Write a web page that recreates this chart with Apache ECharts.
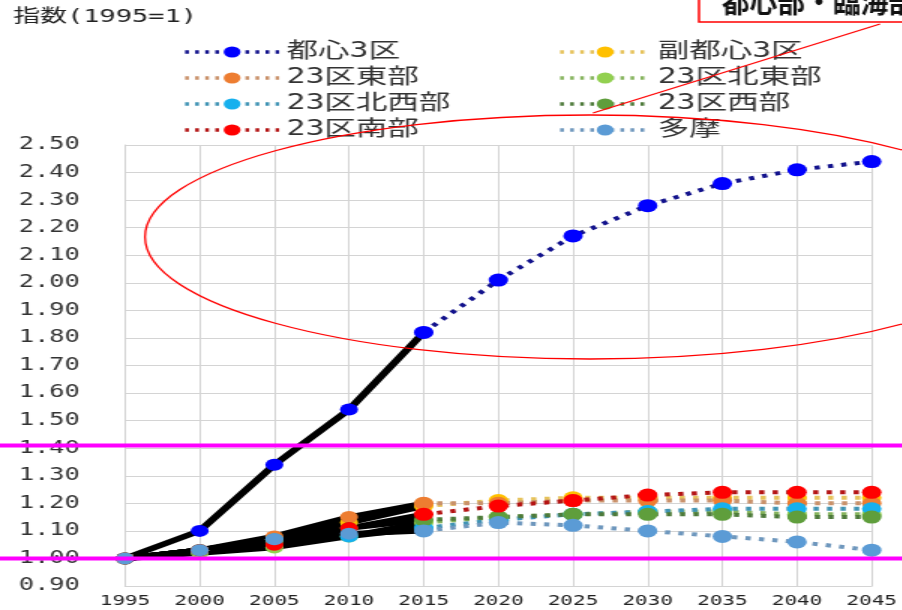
<!DOCTYPE html>
<html>
<head>
<meta charset="utf-8">
<script src="https://cdn.jsdelivr.net/npm/echarts@6/dist/echarts.min.js"></script>
<style>
  html, body { margin: 0; padding: 0; background: #ffffff; overflow: hidden; }
  #wrap { width: 902px; height: 610px; overflow: hidden; position: relative; }
  /* the chart is laid out narrow and widened horizontally, giving the wide lettering */
  #chart { width: 601.33px; height: 610px; transform: scaleX(1.5); transform-origin: 0 0; }
</style>
</head>
<body>
<div id="wrap"><div id="chart"></div></div>
<script>
// 人口指数（1995年=1）: 実績 1995–2015、推計 2015–2045
const years = ['1995', '2000', '2005', '2010', '2015', '2020', '2025', '2030', '2035', '2040', '2045'];
const lastActualIndex = 4; // 2015

const toshin3   = [1.00, 1.10, 1.34, 1.54, 1.82, 2.01, 2.17, 2.28, 2.36, 2.41, 2.44];
const fukutoshin3 = [1.00, 1.03, 1.07, 1.13, 1.19, 1.21, 1.22, 1.22, 1.22, 1.22, 1.22];
const east23    = [1.00, 1.03, 1.08, 1.15, 1.20, 1.20, 1.21, 1.21, 1.21, 1.20, 1.20];
const northEast23 = [1.00, 1.02, 1.04, 1.08, 1.13, 1.15, 1.16, 1.17, 1.17, 1.16, 1.16];
const northWest23 = [1.00, 1.03, 1.07, 1.08, 1.11, 1.14, 1.16, 1.17, 1.18, 1.18, 1.18];
const west23    = [1.00, 1.03, 1.06, 1.11, 1.14, 1.15, 1.16, 1.16, 1.16, 1.15, 1.15];
const south23   = [1.00, 1.03, 1.05, 1.11, 1.16, 1.19, 1.21, 1.23, 1.24, 1.24, 1.24];
const tama      = [1.00, 1.03, 1.07, 1.09, 1.10, 1.13, 1.12, 1.10, 1.08, 1.06, 1.03];

const yTicks = { min: 0.9, max: 2.5, step: 0.1 };

const regions = [
  { name: '都心3区',   values: toshin3,     color: '#0000ff', dot: '#12128c' },
  { name: '副都心3区', values: fukutoshin3, color: '#ffc000', dot: '#e6c25a' },
  { name: '23区東部',  values: east23,      color: '#ed7d31', dot: '#c9916a' },
  { name: '23区北東部', values: northEast23, color: '#92d050', dot: '#86b45e' },
  { name: '23区北西部', values: northWest23, color: '#16b0ee', dot: '#3f93b4' },
  { name: '23区西部',  values: west23,      color: '#5f9e3c', dot: '#4d7a3a' },
  { name: '23区南部',  values: south23,     color: '#ff0000', dot: '#b41414' },
  { name: '多摩',      values: tama,        color: '#5b9bd5', dot: '#6e97bd' }
];

const S = 1.5; // horizontal widening applied to the chart element
const X = v => v / S;

const cjk = "'DejaVu Sans Mono', 'Noto Sans CJK JP', sans-serif";

const series = [];
regions.forEach(r => {
  // 実績: black solid line with coloured markers
  series.push({
    name: r.name + '・実績',
    type: 'line',
    data: r.values.map((v, i) => (i <= lastActualIndex ? v : null)),
    symbol: 'circle',
    symbolSize: 12,
    showSymbol: true,
    itemStyle: { color: r.color },
    lineStyle: { color: '#000000', width: 5.5 },
    z: 2,
    silent: true
  });
});
regions.forEach(r => {
  // 推計: dotted line in the region colour
  series.push({
    name: r.name,
    type: 'line',
    data: r.values.map((v, i) => (i >= lastActualIndex ? v : null)),
    symbol: 'circle',
    symbolSize: 13,
    showSymbol: true,
    itemStyle: { color: r.color },
    lineStyle: { color: r.dot, width: 4, type: [3.5, 5.5] },
    z: 3,
    silent: true
  });
});

const legendCommon = {
  orient: 'vertical',
  top: 36,
  itemHeight: 14,
  itemGap: 4,
  selectedMode: false,
  lineStyle: { width: 3.5, type: [2.5, 4.2] },
  textStyle: { fontFamily: cjk, fontSize: 21, color: '#333333', lineHeight: 22 }
};

const chart = echarts.init(document.getElementById('chart'));
chart.setOption({
  animation: false,
  backgroundColor: '#ffffff',
  grid: { left: X(125), right: 601.33 - X(878), top: 145, bottom: 24, containLabel: false },
  legend: [
    Object.assign({}, legendCommon, {
      left: X(175), itemWidth: X(94),
      data: [regions[0].name, regions[2].name, regions[4].name, regions[6].name]
    }),
    Object.assign({}, legendCommon, {
      left: X(550), itemWidth: X(90),
      data: [regions[1].name, regions[3].name, regions[5].name, regions[7].name]
    })
  ],
  xAxis: {
    type: 'category',
    data: years,
    boundaryGap: false,
    axisLine: { lineStyle: { color: '#d4d4d4', width: 1 } },
    axisTick: { show: false },
    axisLabel: { fontFamily: "'DejaVu Sans Mono', monospace", fontSize: 14, color: '#222222', margin: 8 },
    splitLine: { show: true, lineStyle: { color: '#d4d4d4', width: 1 } }
  },
  yAxis: {
    type: 'value',
    min: yTicks.min,
    max: yTicks.max,
    interval: yTicks.step,
    axisLine: { show: true, lineStyle: { color: '#d4d4d4' } },
    axisTick: { show: false },
    axisLabel: {
      fontFamily: "'DejaVu Sans Mono', monospace", fontSize: 17, color: '#333333', margin: 30,
      formatter: v => v.toFixed(2)
    },
    splitLine: { show: true, lineStyle: { color: '#d4d4d4', width: 1 } }
  },
  series: series
});

// annotations: highlight bands, ellipse and callout
const yAt = v => chart.convertToPixel({ yAxisIndex: 0 }, v);
const fullWidth = 601.33;
chart.setOption({
  graphic: [
    {
      type: 'text', left: X(13), top: 8, z: 50,
      style: { text: '指数(1995=1)', fontFamily: cjk, fontSize: 18, fill: '#222222' }
    },
    {
      type: 'ellipse', z: 60, silent: true,
      shape: { cx: X(590), cy: 237, rx: X(445), ry: 122 },
      style: { fill: 'none', stroke: '#ff0000', lineWidth: 1.3 }
    },
    {
      type: 'line', z: 60, silent: true,
      shape: { x1: X(593), y1: 113, x2: X(880), y2: 24 },
      style: { stroke: '#ff0000', lineWidth: 1.3 }
    },
    {
      type: 'rect', z: 61, silent: true,
      shape: { x: X(699), y: -30, width: X(240), height: 52 },
      style: { fill: '#ffffff', stroke: '#ff0000', lineWidth: 1.5 }
    },
    {
      type: 'text', z: 62, silent: true, x: X(722), y: 16, scaleX: 0.66,
      style: { text: '都心部・臨海部', fontFamily: "'Noto Sans CJK JP', sans-serif", fontWeight: 'bold',
               fontSize: 28, fill: '#111111', textVerticalAlign: 'bottom' }
    },
    {
      type: 'line', z: 70, silent: true,
      shape: { x1: 0, y1: yAt(1.41), x2: fullWidth, y2: yAt(1.41) },
      style: { stroke: '#ff00ff', lineWidth: 4 }
    },
    {
      type: 'line', z: 70, silent: true,
      shape: { x1: 0, y1: yAt(1.00), x2: fullWidth, y2: yAt(1.00) },
      style: { stroke: '#ff00ff', lineWidth: 4 }
    }
  ]
});
</script>
</body>
</html>
